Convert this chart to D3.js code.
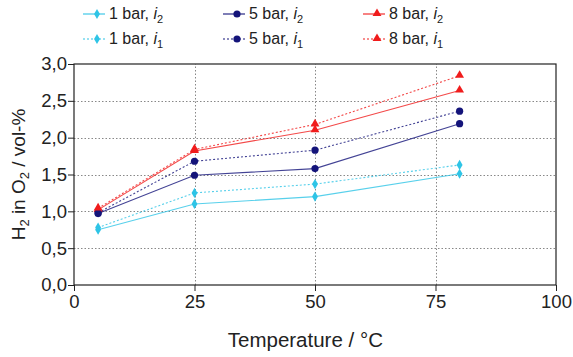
<!DOCTYPE html>
<html>
<head>
<meta charset="utf-8">
<script src="https://cdn.jsdelivr.net/npm/d3@7"></script>
<style>
  body { margin: 0; background: #fff; }
  svg { font-family: "Liberation Sans", Arial, sans-serif; }
  .grid line { stroke: #888; stroke-dasharray: 1.5,2; }
  .axis path, .axis line { stroke: #222; }
</style>
</head>
<body>
<svg width="573" height="357"></svg>
<script>
// data
var temps = [5, 25, 50, 80];
var bar1_i2 = [0.75, 1.10, 1.20, 1.51];
var bar1_i1 = [0.78, 1.25, 1.37, 1.63];
var bar5_i2 = [0.97, 1.49, 1.58, 2.19];
var bar5_i1 = [0.98, 1.68, 1.83, 2.36];
var bar8_i2 = [1.02, 1.82, 2.10, 2.64];
var bar8_i1 = [1.04, 1.84, 2.18, 2.84];
var xTicks = [0, 25, 50, 75, 100];
var yTicks = [0, 0.5, 1, 1.5, 2, 2.5, 3];

var series = [
  {name: "1 bar", sub: "2", values: bar1_i2, color: "#2ec4e6", dash: null, marker: "diamond"},
  {name: "5 bar", sub: "2", values: bar5_i2, color: "#14147a", dash: null, marker: "circle"},
  {name: "8 bar", sub: "2", values: bar8_i2, color: "#f01c1c", dash: null, marker: "triangle"},
  {name: "1 bar", sub: "1", values: bar1_i1, color: "#2ec4e6", dash: "2,2", marker: "diamond"},
  {name: "5 bar", sub: "1", values: bar5_i1, color: "#14147a", dash: "2,2", marker: "circle"},
  {name: "8 bar", sub: "1", values: bar8_i1, color: "#f01c1c", dash: "2,2", marker: "triangle"}
];

var svg = d3.select("svg");
var margin = {left: 74, right: 17, top: 64, bottom: 72};
var width = 573 - margin.left - margin.right,
    height = 357 - margin.top - margin.bottom;

var x = d3.scaleLinear().domain([0, 100]).range([margin.left, margin.left + width]);
var y = d3.scaleLinear().domain([0, 3]).range([margin.top + height, margin.top]);
var fmt = function(d) { return d3.format(".1f")(d).replace(".", ","); };

// gridlines
var grid = svg.append("g").attr("class", "grid");
grid.selectAll(".hg").data(yTicks.slice(1, -1)).enter().append("line")
    .attr("x1", x(0)).attr("x2", x(100))
    .attr("y1", function(d) { return Math.round(y(d)) + 0.5; })
    .attr("y2", function(d) { return Math.round(y(d)) + 0.5; });
grid.selectAll(".vg").data(xTicks.slice(1, -1)).enter().append("line")
    .attr("y1", y(0)).attr("y2", y(3))
    .attr("x1", function(d) { return Math.round(x(d)) + 0.5; })
    .attr("x2", function(d) { return Math.round(x(d)) + 0.5; });

// frame
svg.append("rect")
    .attr("x", x(0)).attr("y", y(3))
    .attr("width", width).attr("height", height)
    .attr("fill", "none").attr("stroke", "#222").attr("stroke-width", 1.2);

// axes
svg.append("g").attr("class", "axis")
    .attr("transform", "translate(0," + y(0) + ")")
    .call(d3.axisBottom(x).tickValues(xTicks).tickSize(6).tickPadding(4))
    .call(function(g) { g.select(".domain").remove(); })
    .selectAll("text").attr("font-size", 18.5).attr("fill", "#222");
svg.append("g").attr("class", "axis")
    .attr("transform", "translate(" + x(0) + ",0)")
    .call(d3.axisLeft(y).tickValues(yTicks).tickFormat(fmt).tickSize(6).tickPadding(1))
    .call(function(g) { g.select(".domain").remove(); })
    .selectAll("text").attr("font-size", 18.5).attr("fill", "#222");

// axis titles
svg.append("text")
    .attr("x", x(48)).attr("y", 347)
    .attr("text-anchor", "middle").attr("font-size", 20.5).attr("fill", "#222")
    .text("Temperature / °C");
var yt = svg.append("text")
    .attr("transform", "translate(25," + y(1.5) + ") rotate(-90)")
    .attr("text-anchor", "middle").attr("font-size", 19).attr("fill", "#222");
yt.append("tspan").text("H");
yt.append("tspan").attr("font-size", 13).attr("dy", 4).text("2");
yt.append("tspan").attr("dy", -4).text(" in O");
yt.append("tspan").attr("font-size", 13).attr("dy", 4).text("2");
yt.append("tspan").attr("dy", -4).text(" / vol-%");

function drawMarker(g, type, color) {
  if (type === "circle") {
    g.append("circle").attr("r", 3.6).attr("fill", color);
  } else if (type === "triangle") {
    g.append("path").attr("d", d3.symbol(d3.symbolTriangle, 34)()).attr("fill", color).attr("transform", "translate(0,-0.5)");
  } else {
    g.append("path").attr("d", d3.symbol(d3.symbolDiamond, 30)()).attr("fill", color);
  }
}

var line = d3.line()
    .x(function(d, i) { return x(temps[i]); })
    .y(function(d) { return y(d); });

series.forEach(function(s) {
  svg.append("path")
      .datum(s.values)
      .attr("fill", "none")
      .attr("stroke", s.color)
      .attr("stroke-opacity", 0.8)
      .attr("stroke-width", 1.1)
      .attr("stroke-dasharray", s.dash)
      .attr("d", line);
  s.values.forEach(function(v, i) {
    var g = svg.append("g").attr("transform", "translate(" + x(temps[i]) + "," + y(v) + ")");
    drawMarker(g, s.marker, s.color);
  });
});

// legend
var legX = [83, 223, 363];
var legY = [14, 39];
series.forEach(function(s, k) {
  var col = k % 3, row = Math.floor(k / 3);
  var g = svg.append("g").attr("transform", "translate(" + legX[col] + "," + legY[row] + ")");
  g.append("line").attr("x1", 0).attr("x2", 22).attr("y1", 0).attr("y2", 0)
      .attr("stroke", s.color).attr("stroke-width", 1.1).attr("stroke-dasharray", s.dash);
  var m = g.append("g").attr("transform", "translate(14,0)");
  drawMarker(m, s.marker, s.color);
  var t = g.append("text").attr("x", 26).attr("y", 5)
      .attr("font-size", 16).attr("fill", "#222");
  t.append("tspan").text(s.name + ", ");
  t.append("tspan").attr("font-style", "italic").text("i");
  t.append("tspan").attr("font-size", 11).attr("dy", 4).text(s.sub);
});
</script>
</body>
</html>
